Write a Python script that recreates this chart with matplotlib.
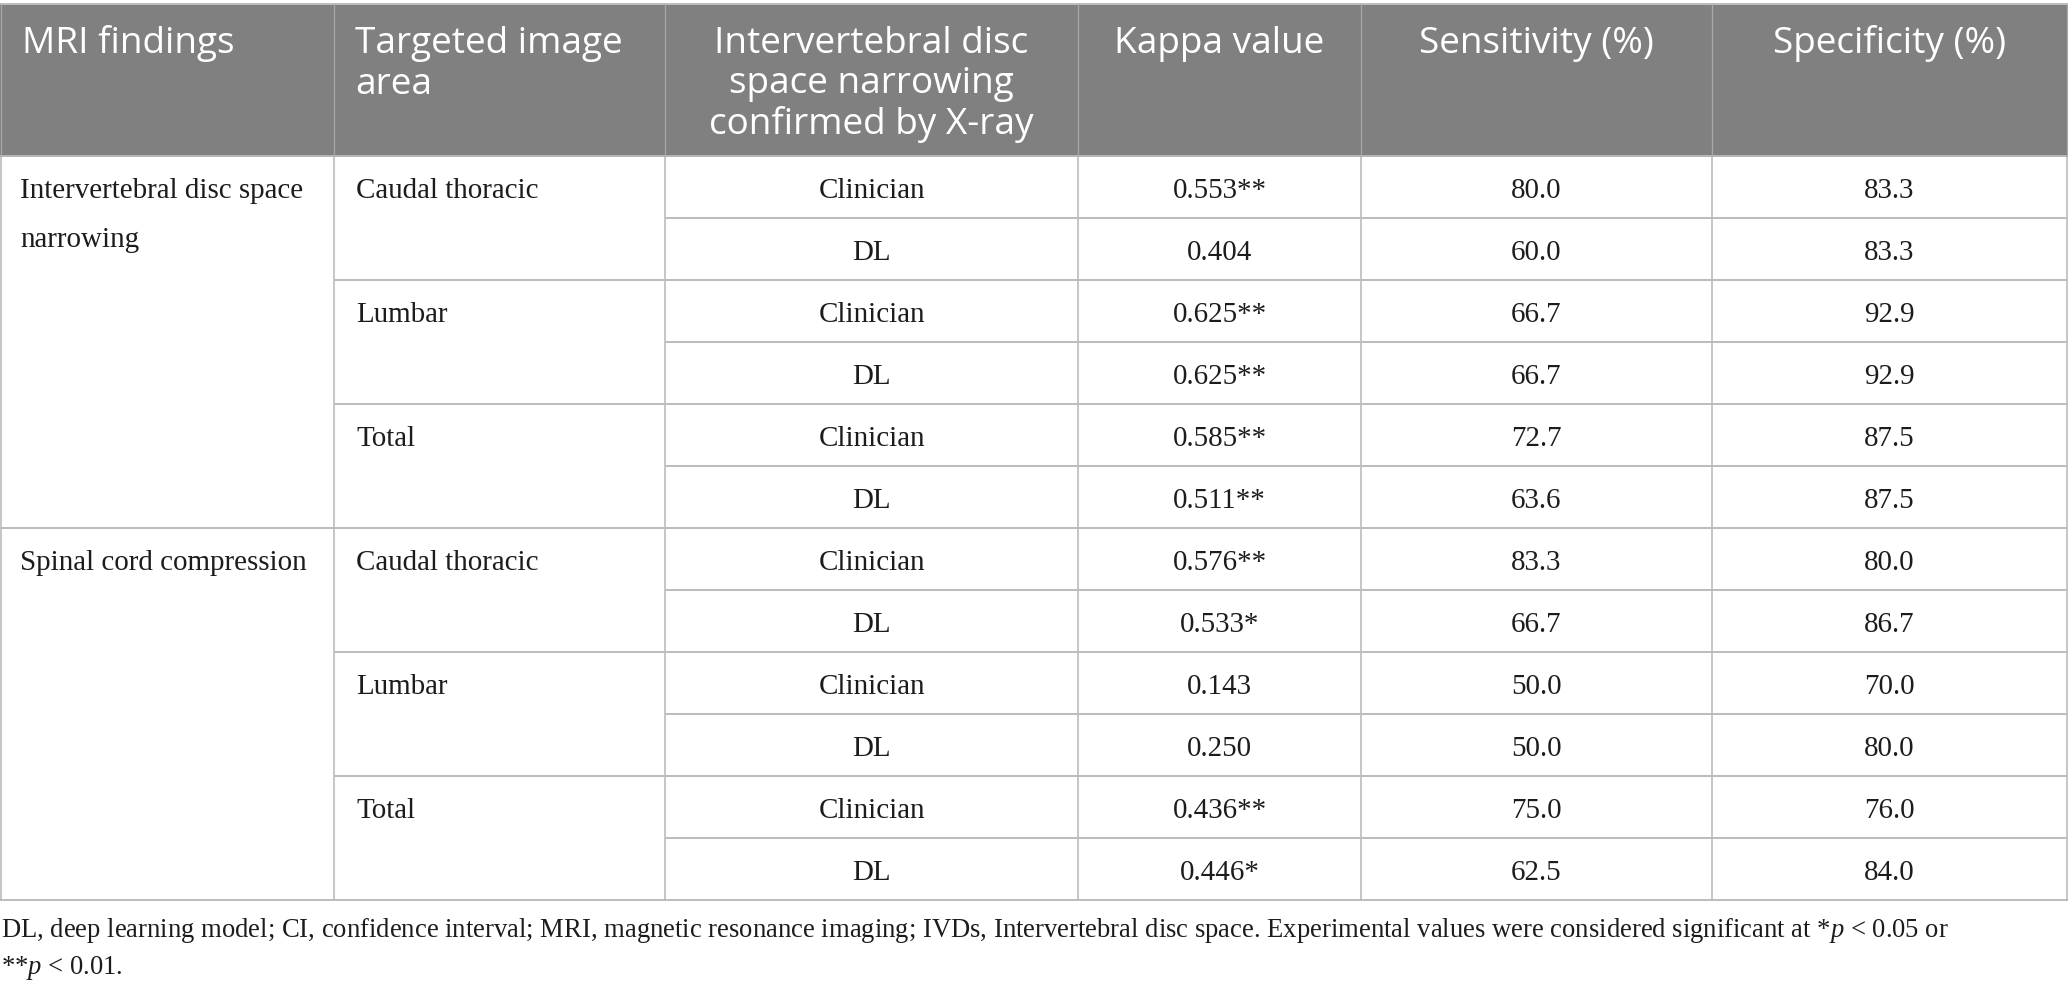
import matplotlib
matplotlib.use("Agg")
import matplotlib.pyplot as plt
from matplotlib.patches import Rectangle

# ---------------- data ----------------
headers = ["MRI findings", "Targeted image\narea",
           "Intervertebral disc\nspace narrowing\nconfirmed by X-ray",
           "Kappa value", "Sensitivity (%)", "Specificity (%)"]
findings = ["Intervertebral disc space\nnarrowing", "Spinal cord compression"]
areas = ["Caudal thoracic", "Lumbar", "Total"]
raters = ["Clinician", "DL"]
kappa = ["0.553**", "0.404", "0.625**", "0.625**", "0.585**", "0.511**",
         "0.576**", "0.533*", "0.143", "0.250", "0.436**", "0.446*"]
sensitivity = [80.0, 60.0, 66.7, 66.7, 72.7, 63.6, 83.3, 66.7, 50.0, 50.0, 75.0, 62.5]
specificity = [83.3, 83.3, 92.9, 92.9, 87.5, 87.5, 80.0, 86.7, 70.0, 80.0, 76.0, 84.0]
footnote_1 = ("DL, deep learning model; CI, confidence interval; MRI, magnetic resonance imaging; "
              "IVDs, Intervertebral disc space. Experimental values were considered significant at "
              "*$p$ < 0.05 or")
footnote_2 = "**$p$ < 0.01."

# ---------------- style / layout ----------------
plt.rcParams["mathtext.fontset"] = "custom"
plt.rcParams["mathtext.rm"] = "Liberation Serif"
plt.rcParams["mathtext.it"] = "Liberation Serif:italic"

W, H = 2068, 991
fig = plt.figure(figsize=(W / 100, H / 100), dpi=100)
ax = fig.add_axes([0, 0, 1, 1])
ax.set_xlim(0, W)
ax.set_ylim(H, 0)
ax.axis("off")

PX = 0.72  # px -> pt at dpi 100
col_x = [1, 334, 665, 1078, 1361, 1712, 2067]
top, head_bot = 4, 156
row_h = 62
n_rows = len(kappa)
bottom = head_bot + n_rows * row_h

HEAD_BG = "#808080"
LINE = "#bdbdbd"
TXT = "#1c1c1c"
head_fs = 37 * PX
body_fs = 29 * PX
serif = "Liberation Serif"
sans = "Open Sans"

# header background
ax.add_patch(Rectangle((0, top), W, head_bot - top, facecolor=HEAD_BG, edgecolor="none", zorder=0))

# header texts
for j, h in enumerate(headers):
    lines = h.split("\n")
    for k, ln in enumerate(lines):
        y = 53 + k * 40.5
        if j < 2:
            ax.text(col_x[j] + 21, y, ln, color="white", fontsize=head_fs, family=sans,
                    ha="left", va="baseline")
        else:
            ax.text((col_x[j] + col_x[j + 1]) / 2, y, ln, color="white", fontsize=head_fs,
                    family=sans, ha="center", va="baseline")

# body texts
for r in range(n_rows):
    ytop = head_bot + r * row_h
    yb = ytop + 42
    g, rem = divmod(r, 6)
    a, rr = divmod(rem, 2)
    if rem == 0:
        for k, ln in enumerate(findings[g].split("\n")):
            ax.text(col_x[0] + 19, yb + k * 49, ln, fontsize=body_fs, family=serif,
                    color=TXT, ha="left", va="baseline")
    if rr == 0:
        ax.text(col_x[1] + 22, yb, areas[a], fontsize=body_fs, family=serif,
                color=TXT, ha="left", va="baseline")
    vals = [raters[rr], kappa[r], f"{sensitivity[r]:.1f}", f"{specificity[r]:.1f}"]
    for j, v in enumerate(vals):
        cx = (col_x[j + 2] + col_x[j + 3]) / 2
        ax.text(cx, yb, v, fontsize=body_fs, family=serif, color=TXT,
                ha="center", va="baseline")

# grid lines
lw = 2 * PX
ax.plot([0, W], [top, top], color=LINE, lw=lw, solid_capstyle="butt")
ax.plot([0, W], [head_bot, head_bot], color="#b5b5b5", lw=lw, solid_capstyle="butt")
ax.plot([0, W], [bottom, bottom], color=LINE, lw=lw, solid_capstyle="butt")
for x in col_x:
    ax.plot([x, x], [top, head_bot], color="#a8a8a8", lw=1.3 * PX, solid_capstyle="butt")
    ax.plot([x, x], [head_bot, bottom], color="#b5b5b5", lw=1.5 * PX, solid_capstyle="butt")
for r in range(1, n_rows):
    y = head_bot + r * row_h
    if r % 6 == 0:
        x0 = 0
    elif r % 2 == 0:
        x0 = col_x[1]
    else:
        x0 = col_x[2]
    ax.plot([x0, W], [y, y], color=LINE, lw=lw, solid_capstyle="butt")

# footnote, fitted to reference width
t1 = ax.text(1, 937, footnote_1, fontsize=24 * PX, family=serif, color=TXT,
             ha="left", va="baseline")
t2 = ax.text(1, 974, footnote_2, fontsize=24 * PX, family=serif, color=TXT,
             ha="left", va="baseline")
fig.canvas.draw()
rend = fig.canvas.get_renderer()
w1 = t1.get_window_extent(rend).width
scale = 1950 / w1
t1.set_fontsize(24 * PX * scale)
t2.set_fontsize(24 * PX * scale)

fig.savefig("out.png", dpi=100, facecolor="white")
